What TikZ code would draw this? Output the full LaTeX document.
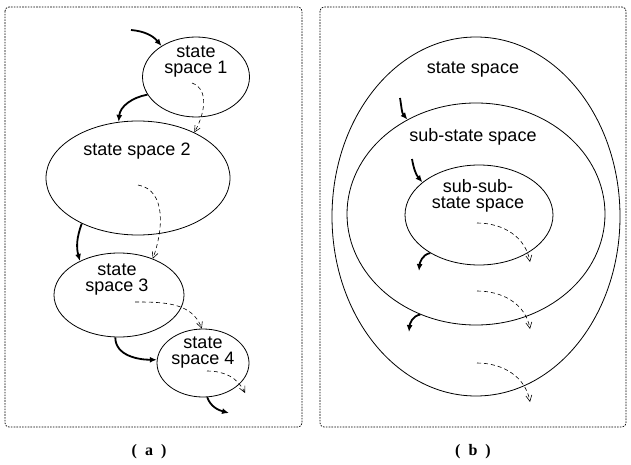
\documentclass[tikz,border=0pt]{standalone}
\usepackage{fontspec}
\setmainfont{Liberation Sans}
\newfontfamily\capfont{Liberation Serif}
\usetikzlibrary{arrows.meta, shapes.geometric}

\tikzset{
  space/.style={ellipse, draw, line width=0.8pt, inner sep=0pt},
  spacetext/.style={align=center, font=\fontsize{18}{16}\selectfont},
  solidarr/.style={-{Latex[length=7pt,width=6pt]}, line width=1.8pt},
  dasharr/.style={dashed, dash pattern=on 4pt off 3pt, line width=0.6pt,
    -{Straight Barb[length=6pt,width=6pt]}},
  panel/.style={draw, dash pattern=on 1.6pt off 1.2pt, line width=0.7pt, rounded corners=4pt},
  caption/.style={font=\capfont\bfseries\fontsize{16}{18}\selectfont}
}

\begin{document}
\begin{tikzpicture}[x=1pt, y=1pt]
  \useasboundingbox (0,0) rectangle (631,464);

  % panels
  \draw[panel] (5,457) rectangle (302,37);
  \draw[panel] (320,457) rectangle (626,37);
  \node[caption] (capa) at (149,12) {(\ \ a\ \ )};
  \node[caption] (capb) at (473,12) {(\ \ b\ \ )};

  % (a) chain of state spaces
  \node[space, minimum width=107pt, minimum height=80pt] (s1) at (196,387) {};
  \node[space, minimum width=184pt, minimum height=114pt] (s2) at (138,286) {};
  \node[space, minimum width=130pt, minimum height=84pt] (s3) at (119,169) {};
  \node[space, minimum width=92pt, minimum height=68pt] (s4) at (203,101) {};
  \node[spacetext] (t1) at (196,402) {state\\space 1};
  \node[spacetext] (t2) at (137,313) {state space 2};
  \node[spacetext] (t3) at (117,184) {state\\space 3};
  \node[spacetext] (t4) at (203,111) {state\\space 4};

  \coordinate (in1) at (131,434);
  \coordinate (out4) at (229,51);
  \draw[solidarr] (in1) to[out=-5, in=130] (s1.138);
  \draw[solidarr] (s1.200) to[out=190, in=85] (s2.109);
  \draw[solidarr] (s2.219) to[out=250, in=105] (s3.139);
  \draw[solidarr] (s3.265) to[out=270, in=180] (s4.176);
  \draw[solidarr] (s4.277) to[out=290, in=165] (out4);

  \coordinate (j1) at (192,381);
  \coordinate (j2) at (138,279);
  \coordinate (j3) at (135,162);
  \coordinate (j4) at (207,93);
  \coordinate (j5) at (245,71);
  \draw[dasharr] (j1) to[out=-20, in=60] (s2.39);
  \draw[dasharr] (j2) to[out=-10, in=70] (s3.47);
  \draw[dasharr] (j3) to[out=0, in=110] (s4.92);
  \draw[dasharr] (j4) to[out=0, in=115] (j5);

  % (b) nested state spaces
  \node[space, minimum width=288pt, minimum height=359pt] (o) at (476,247.5) {};
  \node[space, minimum width=258pt, minimum height=222pt] (m) at (476,250) {};
  \node[space, minimum width=148pt, minimum height=100pt] (i) at (479,249) {};
  \node[spacetext] (to) at (473,394) {state space};
  \node[spacetext] (tm) at (473,327) {sub-state space};
  \node[spacetext] (ti) at (478,268) {sub-sub-\\state space};

  \coordinate (r1) at (400,366);
  \coordinate (r2) at (412,305);
  \coordinate (r3) at (419,193);
  \coordinate (r4) at (409,132);
  \draw[solidarr] (r1) to[out=-80, in=130] (m.126);
  \draw[solidarr] (r2) to[out=-80, in=130] (i.150);
  \draw[solidarr] (i.218) to[out=190, in=85] (r3);
  \draw[solidarr] (m.241) to[out=190, in=85] (r4);

  \coordinate (k1) at (477,241);
  \coordinate (k2) at (530,202);
  \coordinate (k3) at (477,173);
  \coordinate (k4) at (530,135);
  \coordinate (k5) at (477,101);
  \coordinate (k6) at (530,62);
  \draw[dasharr] (k1) to[out=0, in=100] (k2);
  \draw[dasharr] (k3) to[out=0, in=100] (k4);
  \draw[dasharr] (k5) to[out=0, in=100] (k6);
\end{tikzpicture}
\end{document}
